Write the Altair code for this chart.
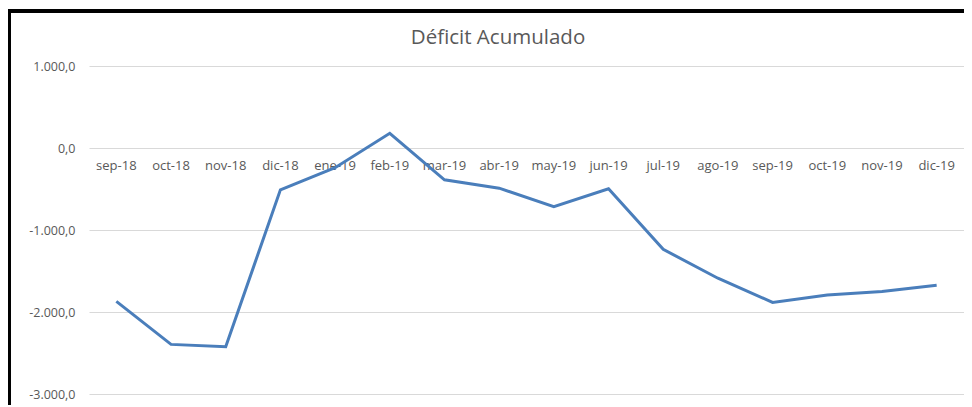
import altair as alt
import pandas as pd

months = ["sep-18", "oct-18", "nov-18", "dic-18", "ene-19", "feb-19", "mar-19", "abr-19",
          "may-19", "jun-19", "jul-19", "ago-19", "sep-19", "oct-19", "nov-19", "dic-19"]
deficit = [-1870, -2395, -2424, -510, -240, 180, -388, -490,
           -715, -497, -1236, -1588, -1883, -1794, -1750, -1673]
title_text = ["Déficit Acumulado"]

df = pd.DataFrame({"mes": months, "valor": deficit, "cero": [0] * len(months)})
df_title = pd.DataFrame({"t": title_text})

W, H = 875, 328
x_enc = alt.X("mes:N", sort=months, axis=None, scale=alt.Scale(paddingInner=0, paddingOuter=0, align=0.5))
y_scale = alt.Scale(domain=[-3000, 1000])

grid = alt.Chart(df).mark_line(opacity=0).encode(
    x=x_enc,
    y=alt.Y("valor:Q", scale=y_scale,
            axis=alt.Axis(values=[-3000, -2000, -1000, 0, 1000], title=None, domain=False, ticks=False,
                          gridColor="#d9d9d9", gridWidth=1, labelColor="#595959", labelFontSize=12.5,
                          labelFont="Open Sans", labelPadding=14,
                          labelExpr="replace(replace(replace(replace(format(datum.value, ',.1f'), ',', '#'), '.', ','), '#', '.'), '\u2212', '-')")),
)

labels = alt.Chart(df).mark_text(fontSize=13, font="Open Sans", color="#595959", dy=18).encode(
    x=x_enc,
    y=alt.Y("cero:Q", scale=y_scale),
    text="mes:N",
)

line = alt.Chart(df).mark_line(color="#4a7ebb", strokeWidth=3).encode(
    x=x_enc,
    y=alt.Y("valor:Q", scale=y_scale),
)

title = alt.Chart(df_title).mark_text(font="Open Sans", fontSize=20.5, color="#595959",
                                      baseline="middle", align="center", clip=False).encode(
    x=alt.value(409), y=alt.value(-28), text="t:N"
)

border_left = alt.Chart(df).mark_rule(color="black", strokeWidth=2.5, clip=False).encode(
    x=alt.value(-80), y=alt.value(-55), y2=alt.value(360)
)
border_top = alt.Chart(df).mark_rule(color="black", strokeWidth=2.5, clip=False).encode(
    x=alt.value(-81), x2=alt.value(900), y=alt.value(-55)
)

chart = alt.layer(grid, labels, line, title, border_left, border_top).properties(
    width=W, height=H,
    autosize=alt.AutoSizeParams(type="none"),
    padding={"left": 81, "top": 58, "right": 0, "bottom": 11},
    background="white",
).configure_view(stroke=None)

chart.save("out.html", embed_options={"renderer": "svg", "actions": False})
